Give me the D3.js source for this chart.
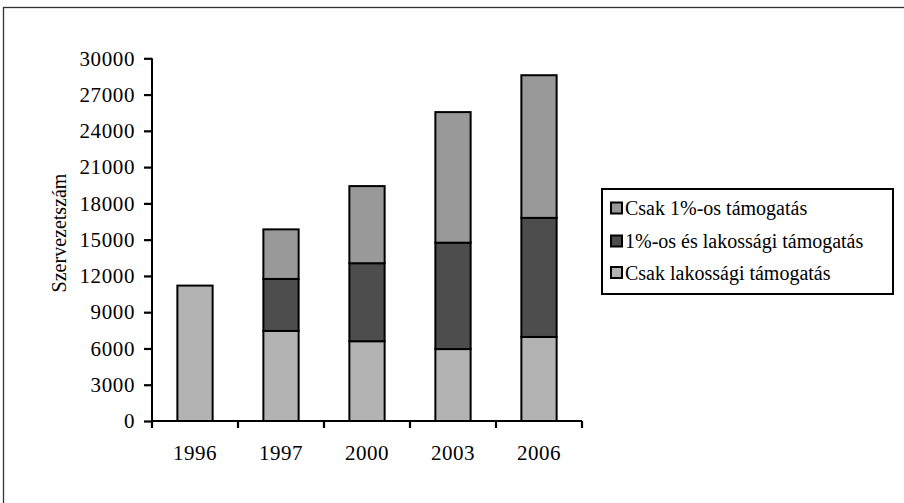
<!DOCTYPE html>
<html>
<head>
<meta charset="utf-8">
<script src="https://cdn.jsdelivr.net/npm/d3@7"></script>
<style>
  html, body { margin: 0; padding: 0; background: #fff; }
  svg { display: block; font-family: "Liberation Serif", "Times New Roman", serif; }
</style>
</head>
<body>
<svg id="chart" width="904" height="503"></svg>
<script>
const categories = ["1996", "1997", "2000", "2003", "2006"];
const csakLakossagi = [11200, 7450, 6600, 5950, 6950];
const mindketto = [0, 4300, 6450, 8800, 9850];
const csak1szazalek = [0, 4100, 6380, 10800, 11800];
const seriesNames = ["Csak lakossági támogatás", "1%-os és lakossági támogatás", "Csak 1%-os támogatás"];
const seriesColors = ["#b3b3b3", "#4d4d4d", "#999999"];
const yTicks = [0, 3000, 6000, 9000, 12000, 15000, 18000, 21000, 24000, 27000, 30000];
const yTitle = "Szervezetszám";

const svg = d3.select("#chart");

// outer frame (only left and top visible)
svg.append("rect").attr("x", 3.5).attr("y", 7.5).attr("width", 1200).attr("height", 1200)
  .attr("fill", "none").attr("stroke", "#333").attr("stroke-width", 1.3);

const plotLeft = 152, plotRight = 582, plotTop = 58.3, plotBottom = 421;

const x = d3.scaleBand().domain(categories).range([plotLeft, plotRight]).padding(0);
const y = d3.scaleLinear().domain([0, 30000]).range([plotBottom, plotTop]);

const table = categories.map((c, i) => ({
  cat: c, s0: csakLakossagi[i], s1: mindketto[i], s2: csak1szazalek[i]
}));
const stack = d3.stack().keys(["s0", "s1", "s2"])(table);

const barW = x.bandwidth() * 0.41;
const g = svg.append("g");
stack.forEach((layer, li) => {
  g.selectAll(null).data(layer.filter(d => d[1] - d[0] > 0)).enter().append("rect")
    .attr("x", d => x(d.data.cat) + (x.bandwidth() - barW) / 2)
    .attr("y", d => y(d[1]))
    .attr("width", barW)
    .attr("height", d => y(d[0]) - y(d[1]))
    .attr("fill", seriesColors[li])
    .attr("stroke", "#000")
    .attr("stroke-width", 2);
});

// Y axis
const yAxis = d3.axisLeft(y).tickValues(yTicks).tickSize(8).tickPadding(9).tickFormat(d3.format("d"));
const ya = svg.append("g").attr("transform", `translate(${plotLeft},0)`).call(yAxis);
ya.select(".domain").attr("stroke", "#000").attr("stroke-width", 2).attr("d", `M0,${plotTop}V${plotBottom}`);
ya.selectAll(".tick line").attr("stroke", "#000").attr("stroke-width", 2.2);
ya.selectAll(".tick text").attr("font-size", 21).attr("fill", "#000")
  .attr("letter-spacing", 0.6)
  .attr("font-family", "Liberation Serif, serif");

// X axis
const xAxis = d3.axisBottom(x).tickSize(0).tickPadding(24);
const xa = svg.append("g").attr("transform", `translate(0,${plotBottom})`).call(xAxis);
xa.select(".domain").attr("stroke", "#000").attr("stroke-width", 2).attr("d", `M${plotLeft},0H${plotRight}`);
xa.selectAll(".tick text").attr("font-size", 21).attr("fill", "#000")
  .attr("letter-spacing", 0.5)
  .attr("font-family", "Liberation Serif, serif");
// boundary ticks between categories
const bounds = categories.map(c => x(c)).concat([x(categories[categories.length - 1]) + x.bandwidth()]);
xa.selectAll(".btick").data(bounds).enter().append("line")
  .attr("x1", d => d).attr("x2", d => d).attr("y1", 0).attr("y2", 7)
  .attr("stroke", "#000").attr("stroke-width", 2.2);

// Y title
svg.append("text")
  .attr("transform", `translate(66,233) rotate(-90)`)
  .attr("text-anchor", "middle")
  .attr("font-size", 20).attr("fill", "#000")
  .text(yTitle);

// Legend
const lg = svg.append("g");
lg.append("rect").attr("x", 602).attr("y", 189).attr("width", 291).attr("height", 105)
  .attr("fill", "#fff").attr("stroke", "#000").attr("stroke-width", 2);
const legendOrder = [2, 1, 0];
const rowY = [208, 241, 272.5];
legendOrder.forEach((si, r) => {
  lg.append("rect").attr("x", 611).attr("y", rowY[r] - 5.5).attr("width", 11).attr("height", 11)
    .attr("fill", seriesColors[si]).attr("stroke", "#000").attr("stroke-width", 2);
  lg.append("text").attr("x", 625).attr("y", rowY[r]).attr("dy", "0.35em")
    .attr("font-size", 20).attr("fill", "#000").text(seriesNames[si]);
});
</script>
</body>
</html>
